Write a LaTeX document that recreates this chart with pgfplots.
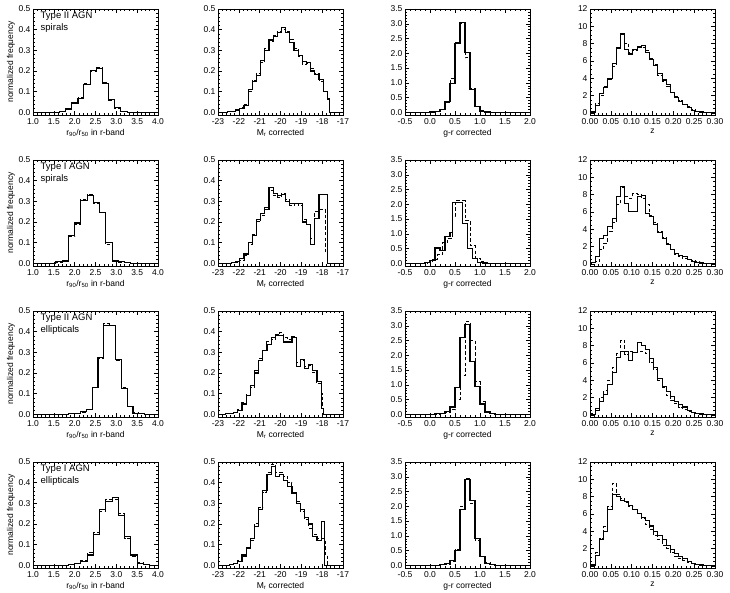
\documentclass[border=0pt]{standalone}
\usepackage{pgfplots}
\pgfplotsset{compat=1.18}
\usepackage{fontspec}
\setmainfont{Liberation Sans}

\pgfplotsset{
  panel/.style={
    scale only axis, width=125pt, height=106pt, anchor=north west,
    axis line style={line width=0.7pt},
    tick align=inside, xtick pos=both, ytick pos=both,
    major tick length=4pt, minor tick length=2pt,
    every tick/.style={black, line width=0.5pt},
    minor x tick num=4, minor y tick num=4,
    scaled ticks=false,
    /pgf/number format/assume math mode=true,
    tick label style={font=\fontsize{8.5}{9.5}\selectfont},
    label style={font=\fontsize{8.5}{10}\selectfont},
    xlabel style={yshift=2pt},
    yticklabel style={xshift=1pt},
    clip=true,
  },
  colR/.style={xmin=1, xmax=4, xtick={1,1.5,2,2.5,3,3.5,4},
    ymin=-0.013, ymax=0.5, ytick={0,0.1,0.2,0.3,0.4,0.5},
    xticklabel style={/pgf/number format/.cd, fixed, fixed zerofill, precision=1},
    yticklabel style={/pgf/number format/.cd, fixed, fixed zerofill, precision=1},
    xlabel={r\textsubscript{90}/r\textsubscript{50} in r-band},
    ylabel={normalized frequency}, ylabel style={yshift=-3pt}},
  colM/.style={xmin=-23, xmax=-17, xtick={-23,-22,-21,-20,-19,-18,-17},
    ymin=-0.013, ymax=0.5, ytick={0,0.1,0.2,0.3,0.4,0.5},
    yticklabel style={/pgf/number format/.cd, fixed, fixed zerofill, precision=1},
    xlabel={M\textsubscript{r} corrected}},
  colG/.style={xmin=-0.5, xmax=2, xtick={-0.5,0,0.5,1,1.5,2},
    ymin=-0.09, ymax=3.5, ytick={0,0.5,1,1.5,2,2.5,3,3.5},
    xticklabel style={/pgf/number format/.cd, fixed, fixed zerofill, precision=1},
    yticklabel style={/pgf/number format/.cd, fixed, fixed zerofill, precision=1},
    xlabel={g-r corrected}},
  colZ/.style={xmin=0, xmax=0.3, xtick={0,0.05,0.1,0.15,0.2,0.25,0.3},
    ymin=-0.25, ymax=12, ytick={0,2,4,6,8,10,12}, minor y tick num=3,
    xticklabel style={/pgf/number format/.cd, fixed, fixed zerofill, precision=2},
    xlabel={z}},
  hs/.style={black, line width=1.1pt, const plot mark left},
  hd/.style={black, line width=1.0pt, const plot mark left, dash pattern=on 3.5pt off 2.2pt},
}
\newcommand{\tag}[1]{\node[anchor=north west, align=left, inner sep=0pt,
  font=\fontsize{9.5}{12}\selectfont] at (rel axis cs:0.06,0.975) {#1};}

\begin{document}
\begin{tikzpicture}
\path[use as bounding box] (0,0) rectangle (730pt,-593pt);

% ---------------- Type II AGN, spirals ----------------
\begin{axis}[panel, colR, at={(33pt,-9pt)}]
\addplot[hs] coordinates {(1,0) (1.64,0.004) (1.79,0.016) (1.93,0.045) (2.08,0.068) (2.22,0.135) (2.37,0.202) (2.52,0.212) (2.67,0.139) (2.82,0.060) (2.96,0.022) (3.11,0.004) (3.26,0) (4,0)};
\addplot[hd] coordinates {(1,0) (1.64,0.005) (1.79,0.018) (1.93,0.048) (2.08,0.070) (2.22,0.140) (2.37,0.198) (2.52,0.218) (2.67,0.142) (2.82,0.058) (2.96,0.020) (3.11,0.005) (3.26,0) (4,0)};
\tag{Type II AGN\\spirals}
\end{axis}
\begin{axis}[panel, colM, at={(218pt,-9pt)}]
\addplot[hs] coordinates {(-23,0) (-22.55,0.002) (-22.35,0.004) (-22.15,0.011) (-21.95,0.020) (-21.75,0.034) (-21.55,0.110) (-21.35,0.150) (-21.15,0.180) (-20.95,0.250) (-20.75,0.300) (-20.55,0.350) (-20.35,0.365) (-20.15,0.385) (-19.95,0.410) (-19.75,0.385) (-19.55,0.340) (-19.35,0.300) (-19.15,0.275) (-18.95,0.245) (-18.75,0.240) (-18.55,0.200) (-18.35,0.185) (-18.15,0.160) (-17.95,0.100) (-17.75,0.065) (-17.65,0) (-17,0)};
\addplot[hd] coordinates {(-23,0) (-22.55,0.002) (-22.35,0.005) (-22.15,0.008) (-21.95,0.022) (-21.75,0.040) (-21.55,0.100) (-21.35,0.155) (-21.15,0.190) (-20.95,0.240) (-20.75,0.310) (-20.55,0.345) (-20.35,0.370) (-20.15,0.390) (-19.95,0.400) (-19.75,0.390) (-19.55,0.350) (-19.35,0.310) (-19.15,0.270) (-18.95,0.230) (-18.75,0.235) (-18.55,0.210) (-18.35,0.190) (-18.15,0.150) (-17.95,0.100) (-17.75,0.060) (-17.65,0) (-17,0)};
\end{axis}
\begin{axis}[panel, colG, at={(405pt,-9pt)}]
\addplot[hs] coordinates {(-0.5,0) (0.0,0.01) (0.1,0.03) (0.2,0.09) (0.3,0.36) (0.4,0.98) (0.5,2.34) (0.6,3.03) (0.7,2.03) (0.8,0.78) (0.9,0.19) (1.0,0.04) (1.1,0.01) (1.2,0) (2,0)};
\addplot[hd] coordinates {(-0.5,0) (0.0,0.01) (0.1,0.03) (0.2,0.08) (0.3,0.34) (0.4,1.15) (0.5,2.36) (0.6,3.00) (0.7,1.85) (0.8,0.80) (0.9,0.20) (1.0,0.05) (1.1,0.01) (1.2,0) (2,0)};
\end{axis}
\begin{axis}[panel, colZ, at={(590pt,-9pt)}]
\addplot[hs] coordinates {(0,0) (0.003,0.1) (0.013,0.8) (0.023,2.2) (0.033,2.9) (0.043,4.0) (0.053,5.7) (0.063,7.4) (0.073,9.2) (0.083,7.3) (0.093,6.8) (0.103,7.3) (0.113,7.7) (0.123,7.8) (0.133,7.0) (0.143,6.2) (0.153,5.5) (0.163,4.5) (0.173,3.8) (0.183,3.3) (0.193,2.3) (0.203,1.8) (0.213,1.3) (0.223,1.0) (0.233,0.6) (0.243,0.3) (0.253,0.15) (0.263,0.1) (0.273,0.05) (0.283,0.03) (0.293,0) (0.3,0)};
\addplot[hd] coordinates {(0,0) (0.003,0.2) (0.013,1.1) (0.023,2.0) (0.033,3.0) (0.043,3.8) (0.053,5.4) (0.063,7.5) (0.073,9.0) (0.083,8.0) (0.093,7.0) (0.103,7.2) (0.113,7.6) (0.123,7.5) (0.133,7.2) (0.143,6.3) (0.153,5.6) (0.163,4.3) (0.173,3.6) (0.183,3.0) (0.193,2.4) (0.203,1.9) (0.213,1.4) (0.223,1.0) (0.233,0.7) (0.243,0.4) (0.253,0.2) (0.263,0.1) (0.273,0.05) (0.283,0.03) (0.293,0) (0.3,0)};
\end{axis}

% ---------------- Type I AGN, spirals ----------------
\begin{axis}[panel, colR, at={(33pt,-160pt)}]
\addplot[hs] coordinates {(1,0) (1.55,0.008) (1.7,0.011) (1.85,0.133) (2.0,0.195) (2.15,0.303) (2.3,0.328) (2.45,0.295) (2.6,0.247) (2.75,0.100) (2.9,0.011) (3.05,0.008) (3.2,0.002) (3.35,0) (4,0)};
\addplot[hd] coordinates {(1,0) (1.55,0.006) (1.7,0.012) (1.85,0.130) (2.0,0.190) (2.15,0.310) (2.3,0.335) (2.45,0.290) (2.6,0.245) (2.75,0.090) (2.9,0.015) (3.05,0.006) (3.2,0.002) (3.35,0) (4,0)};
\tag{Type I AGN\\spirals}
\end{axis}
\begin{axis}[panel, colM, at={(218pt,-160pt)}]
\addplot[hs] coordinates {(-23,0) (-22.35,0.003) (-22.15,0.008) (-21.95,0.025) (-21.75,0.045) (-21.55,0.100) (-21.35,0.135) (-21.15,0.210) (-20.95,0.240) (-20.75,0.260) (-20.55,0.365) (-20.35,0.340) (-20.15,0.330) (-19.95,0.335) (-19.75,0.300) (-19.55,0.290) (-19.35,0.290) (-19.15,0.290) (-18.95,0.200) (-18.75,0.190) (-18.55,0.090) (-18.35,0.215) (-18.15,0.335) (-17.75,0) (-17,0)};
\addplot[hd] coordinates {(-23,0) (-22.35,0.002) (-22.15,0.005) (-21.95,0.015) (-21.75,0.040) (-21.55,0.090) (-21.35,0.140) (-21.15,0.200) (-20.95,0.230) (-20.75,0.270) (-20.55,0.350) (-20.35,0.330) (-20.15,0.320) (-19.95,0.340) (-19.75,0.310) (-19.55,0.280) (-19.35,0.290) (-19.15,0.280) (-18.95,0.210) (-18.75,0.190) (-18.55,0.120) (-18.35,0.250) (-18.15,0.260) (-17.85,0.050) (-17.75,0) (-17,0)};
\end{axis}
\begin{axis}[panel, colG, at={(405pt,-160pt)}]
\addplot[hs] coordinates {(-0.5,0) (-0.1,0.04) (0.0,0.10) (0.1,0.52) (0.2,0.45) (0.3,0.90) (0.4,1.05) (0.45,2.05) (0.65,1.35) (0.75,0.50) (0.85,0.15) (0.95,0.03) (1.05,0.01) (1.15,0) (2,0)};
\addplot[hd] coordinates {(-0.5,0) (-0.05,0.02) (0.05,0.12) (0.15,0.30) (0.25,0.70) (0.35,0.85) (0.45,1.60) (0.5,2.12) (0.7,1.45) (0.8,0.60) (0.9,0.18) (1.0,0.05) (1.1,0.01) (1.2,0) (2,0)};
\end{axis}
\begin{axis}[panel, colZ, at={(590pt,-160pt)}]
\addplot[hs] coordinates {(0,0) (0.003,0.2) (0.013,0.8) (0.023,2.9) (0.033,3.3) (0.043,4.3) (0.053,5.2) (0.063,7.8) (0.073,8.9) (0.083,7.0) (0.093,6.0) (0.103,6.0) (0.113,7.8) (0.123,7.9) (0.133,5.8) (0.143,5.5) (0.153,4.5) (0.163,3.6) (0.173,2.9) (0.183,2.2) (0.193,1.7) (0.203,1.2) (0.213,1.0) (0.223,0.8) (0.233,0.5) (0.243,0.3) (0.253,0.2) (0.263,0.1) (0.273,0.05) (0.283,0.02) (0.293,0) (0.3,0)};
\addplot[hd] coordinates {(0,0) (0.003,0.1) (0.013,0.3) (0.023,1.7) (0.033,2.4) (0.043,3.7) (0.053,4.8) (0.063,6.9) (0.073,8.8) (0.083,7.8) (0.093,7.6) (0.103,8.1) (0.113,8.0) (0.123,7.6) (0.133,6.8) (0.143,5.6) (0.153,4.8) (0.163,3.7) (0.173,3.0) (0.183,2.3) (0.193,1.6) (0.203,1.1) (0.213,0.9) (0.223,0.6) (0.233,0.5) (0.243,0.4) (0.253,0.3) (0.263,0.15) (0.273,0.08) (0.283,0.03) (0.293,0) (0.3,0)};
\end{axis}

% ---------------- Type II AGN, ellipticals ----------------
\begin{axis}[panel, colR, at={(33pt,-311pt)}]
\addplot[hs] coordinates {(1,0) (1.86,0.003) (2.0,0.006) (2.14,0.012) (2.28,0.024) (2.42,0.130) (2.56,0.275) (2.70,0.432) (2.84,0.428) (2.98,0.265) (3.12,0.125) (3.26,0.038) (3.40,0.006) (3.54,0.002) (3.68,0) (4,0)};
\addplot[hd] coordinates {(1,0) (1.86,0.002) (2.0,0.005) (2.14,0.010) (2.28,0.022) (2.42,0.132) (2.56,0.272) (2.70,0.440) (2.84,0.430) (2.98,0.262) (3.12,0.128) (3.26,0.040) (3.40,0.007) (3.54,0.002) (3.68,0) (4,0)};
\tag{Type II AGN\\ellipticals}
\end{axis}
\begin{axis}[panel, colM, at={(218pt,-311pt)}]
\addplot[hs] coordinates {(-23,0) (-22.65,0.002) (-22.45,0.004) (-22.25,0.008) (-22.05,0.020) (-21.85,0.050) (-21.65,0.090) (-21.45,0.140) (-21.25,0.200) (-21.05,0.260) (-20.85,0.310) (-20.65,0.340) (-20.45,0.370) (-20.25,0.380) (-20.05,0.380) (-19.85,0.350) (-19.65,0.350) (-19.45,0.370) (-19.25,0.230) (-19.05,0.265) (-18.85,0.220) (-18.65,0.240) (-18.45,0.210) (-18.25,0.160) (-18.05,0.030) (-17.95,0) (-17,0)};
\addplot[hd] coordinates {(-23,0) (-22.65,0.002) (-22.45,0.005) (-22.25,0.010) (-22.05,0.025) (-21.85,0.055) (-21.65,0.095) (-21.45,0.130) (-21.25,0.210) (-21.05,0.270) (-20.85,0.310) (-20.65,0.350) (-20.45,0.360) (-20.25,0.385) (-20.05,0.395) (-19.85,0.370) (-19.65,0.360) (-19.45,0.375) (-19.25,0.250) (-19.05,0.260) (-18.85,0.230) (-18.65,0.235) (-18.45,0.200) (-18.25,0.150) (-18.05,0.100) (-18.0,0.030) (-17.95,0) (-17,0)};
\end{axis}
\begin{axis}[panel, colG, at={(405pt,-311pt)}]
\addplot[hs] coordinates {(-0.5,0) (0.0,0.01) (0.1,0.03) (0.2,0.03) (0.3,0.10) (0.4,0.25) (0.5,0.90) (0.6,2.60) (0.7,3.05) (0.8,1.80) (0.9,0.95) (1.0,0.35) (1.1,0.08) (1.2,0.02) (1.3,0) (2,0)};
\addplot[hd] coordinates {(-0.5,0) (0.1,0.01) (0.2,0.02) (0.3,0.05) (0.4,0.15) (0.5,0.50) (0.6,1.30) (0.7,3.15) (0.8,2.50) (0.9,1.10) (1.0,0.45) (1.1,0.10) (1.2,0.03) (1.3,0) (2,0)};
\end{axis}
\begin{axis}[panel, colZ, at={(590pt,-311pt)}]
\addplot[hs] coordinates {(0,0) (0.003,0.05) (0.013,0.5) (0.023,1.5) (0.033,2.3) (0.043,3.5) (0.053,4.9) (0.063,6.6) (0.073,7.3) (0.083,7.3) (0.093,6.3) (0.103,7.2) (0.113,8.4) (0.123,8.0) (0.133,7.6) (0.143,6.5) (0.153,5.5) (0.163,4.2) (0.173,3.3) (0.183,2.7) (0.193,2.1) (0.203,1.5) (0.213,1.2) (0.223,0.9) (0.233,0.5) (0.243,0.3) (0.253,0.2) (0.263,0.1) (0.273,0.05) (0.283,0) (0.3,0)};
\addplot[hd] coordinates {(0,0) (0.003,0.1) (0.013,0.7) (0.023,2.0) (0.033,2.8) (0.043,4.0) (0.053,5.5) (0.063,7.1) (0.073,8.6) (0.083,7.0) (0.093,7.3) (0.103,7.2) (0.113,7.3) (0.123,7.3) (0.133,7.1) (0.143,6.0) (0.153,5.2) (0.163,4.0) (0.173,3.2) (0.183,2.2) (0.193,1.6) (0.203,1.3) (0.213,0.9) (0.223,0.6) (0.233,0.4) (0.243,0.25) (0.253,0.15) (0.263,0.08) (0.273,0.03) (0.283,0) (0.3,0)};
\end{axis}

% ---------------- Type I AGN, ellipticals ----------------
\begin{axis}[panel, colR, at={(33pt,-462pt)}]
\addplot[hs] coordinates {(1,0) (1.85,0.003) (2.0,0.010) (2.15,0.020) (2.3,0.050) (2.45,0.150) (2.6,0.270) (2.75,0.310) (2.9,0.330) (3.05,0.240) (3.2,0.140) (3.35,0.050) (3.5,0.010) (3.65,0.003) (3.8,0) (4,0)};
\addplot[hd] coordinates {(1,0) (1.85,0.002) (2.0,0.008) (2.15,0.025) (2.3,0.060) (2.45,0.160) (2.6,0.260) (2.75,0.320) (2.9,0.320) (3.05,0.250) (3.2,0.130) (3.35,0.045) (3.5,0.012) (3.65,0.002) (3.8,0) (4,0)};
\tag{Type I AGN\\ellipticals}
\end{axis}
\begin{axis}[panel, colM, at={(218pt,-462pt)}]
\addplot[hs] coordinates {(-23,0) (-22.45,0.003) (-22.25,0.010) (-22.05,0.020) (-21.85,0.050) (-21.65,0.080) (-21.45,0.130) (-21.25,0.190) (-21.05,0.270) (-20.85,0.360) (-20.65,0.440) (-20.45,0.480) (-20.25,0.430) (-20.05,0.440) (-19.85,0.410) (-19.65,0.380) (-19.45,0.350) (-19.25,0.300) (-19.05,0.270) (-18.85,0.230) (-18.65,0.200) (-18.45,0.140) (-18.25,0.120) (-18.05,0.210) (-17.9,0) (-17,0)};
\addplot[hd] coordinates {(-23,0) (-22.45,0.002) (-22.25,0.008) (-22.05,0.025) (-21.85,0.045) (-21.65,0.085) (-21.45,0.120) (-21.25,0.200) (-21.05,0.280) (-20.85,0.350) (-20.65,0.450) (-20.45,0.490) (-20.25,0.450) (-20.05,0.450) (-19.85,0.430) (-19.65,0.400) (-19.45,0.350) (-19.25,0.310) (-19.05,0.260) (-18.85,0.220) (-18.65,0.180) (-18.45,0.150) (-18.25,0.130) (-18.05,0.130) (-17.85,0.050) (-17.75,0) (-17,0)};
\end{axis}
\begin{axis}[panel, colG, at={(405pt,-462pt)}]
\addplot[hs] coordinates {(-0.5,0) (0.1,0.01) (0.2,0.02) (0.3,0.05) (0.4,0.15) (0.5,0.50) (0.6,1.90) (0.7,2.90) (0.8,2.20) (0.9,0.90) (1.0,0.30) (1.1,0.07) (1.2,0.02) (1.3,0) (2,0)};
\addplot[hd] coordinates {(-0.5,0) (0.1,0.01) (0.2,0.02) (0.3,0.04) (0.4,0.12) (0.5,0.55) (0.6,2.00) (0.7,2.95) (0.8,2.10) (0.9,0.85) (1.0,0.30) (1.1,0.08) (1.2,0.02) (1.3,0) (2,0)};
\end{axis}
\begin{axis}[panel, colZ, at={(590pt,-462pt)}]
\addplot[hs] coordinates {(0,0) (0.003,0.1) (0.013,1.2) (0.023,3.0) (0.033,4.0) (0.043,6.5) (0.053,8.2) (0.063,8.0) (0.073,7.6) (0.083,7.4) (0.093,7.0) (0.103,6.5) (0.113,6.0) (0.123,5.6) (0.133,5.2) (0.143,4.6) (0.153,4.0) (0.163,3.5) (0.173,3.0) (0.183,2.4) (0.193,1.9) (0.203,1.4) (0.213,1.1) (0.223,0.8) (0.233,0.5) (0.243,0.3) (0.253,0.2) (0.263,0.1) (0.273,0.05) (0.283,0) (0.3,0)};
\addplot[hd] coordinates {(0,0) (0.003,0.2) (0.013,1.5) (0.023,3.2) (0.033,4.5) (0.043,6.8) (0.053,9.5) (0.063,8.2) (0.073,7.8) (0.083,7.3) (0.093,6.8) (0.103,6.5) (0.113,6.0) (0.123,5.5) (0.133,4.8) (0.143,4.2) (0.153,3.5) (0.163,3.0) (0.173,2.4) (0.183,2.0) (0.193,1.5) (0.203,1.1) (0.213,0.8) (0.223,0.6) (0.233,0.4) (0.243,0.25) (0.253,0.15) (0.263,0.08) (0.273,0.03) (0.283,0) (0.3,0)};
\end{axis}
\end{tikzpicture}
\end{document}
